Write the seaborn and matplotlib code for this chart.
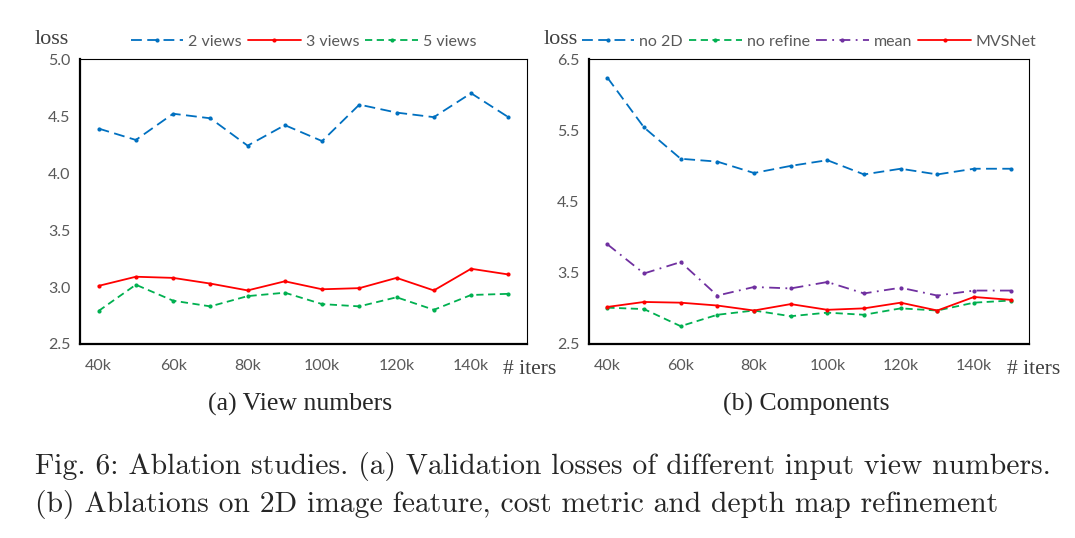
import numpy as np
import pandas as pd
import seaborn as sns
import matplotlib.pyplot as plt

# training iterations (k)
iters = [40, 50, 60, 70, 80, 90, 100, 110, 120, 130, 140, 150]
tick_iters = [40, 60, 80, 100, 120, 140]
tick_labels = ['40k', '60k', '80k', '100k', '120k', '140k']

# (a) view numbers
views_2 = [4.39, 4.29, 4.52, 4.48, 4.24, 4.42, 4.28, 4.60, 4.53, 4.49, 4.70, 4.49]
views_3 = [3.01, 3.09, 3.08, 3.03, 2.97, 3.05, 2.98, 2.99, 3.08, 2.97, 3.16, 3.11]
views_5 = [2.79, 3.02, 2.88, 2.83, 2.92, 2.95, 2.85, 2.83, 2.91, 2.80, 2.93, 2.94]

# (b) components
no_2d = [6.24, 5.54, 5.10, 5.06, 4.90, 5.00, 5.08, 4.88, 4.96, 4.88, 4.96, 4.96]
no_refine = [3.01, 2.99, 2.75, 2.91, 2.97, 2.89, 2.94, 2.91, 3.00, 2.97, 3.08, 3.11]
mean_cost = [3.90, 3.49, 3.65, 3.18, 3.30, 3.28, 3.37, 3.21, 3.29, 3.18, 3.25, 3.25]
mvsnet = [3.02, 3.09, 3.08, 3.04, 2.97, 3.06, 2.98, 3.00, 3.08, 2.97, 3.16, 3.12]

BLUE = '#0070C0'
RED = '#FF0000'
GREEN = '#00B050'
PURPLE = '#7030A0'
GREY = '#595959'

sns.set_style('white')
plt.rcParams['font.family'] = ['Lato', 'DejaVu Sans']


def draw_panel(ax, series, ylim, yticks, iters_x):
    for label, values, color, dash in series:
        ls = '-' if dash is None else (0, dash)
        sns.lineplot(x=iters, y=values, ax=ax, color=color, linestyle=ls, linewidth=1.3,
                     marker='o', markersize=3, markeredgewidth=0, label=label)

    ax.set_xlim(35, 155)
    ax.set_ylim(*ylim)
    ax.set_yticks(yticks)
    ax.set_yticklabels([f'{v:.1f}' for v in yticks])
    ax.set_xticks(tick_iters)
    ax.set_xticklabels(tick_labels)
    ax.tick_params(axis='y', length=4, width=1, color='black', labelsize=11.5, labelcolor=GREY, pad=3)
    ax.tick_params(axis='x', length=0, labelsize=11.5, labelcolor=GREY, pad=11)
    for side in ['left', 'bottom']:
        ax.spines[side].set_linewidth(1.6)
        ax.spines[side].set_color('black')
    for side in ['top', 'right']:
        ax.spines[side].set_linewidth(0.8)
        ax.spines[side].set_color('black')

    ax.legend(loc='lower center', bbox_to_anchor=(0.5, 1.0), ncol=len(series), frameon=False,
              fontsize=11.5, handlelength=3.3, columnspacing=0.4, handletextpad=0.3,
              borderaxespad=0.25, labelcolor=GREY)
    ax.text(-0.025, 1.07, 'loss', transform=ax.transAxes, ha='right', va='center',
            fontsize=16, family='Liberation Serif', color='#404040')
    ax.text(iters_x, -0.09, '# iters', transform=ax.transAxes, ha='center', va='center',
            fontsize=15.5, family='Liberation Serif', color='#404040')
    ax.set_xlabel('')
    ax.set_ylabel('')


fig = plt.figure(figsize=(10.75, 5.38), dpi=100)
ax_a = fig.add_axes([0.0744, 0.3606, 0.4158, 0.5297])
ax_b = fig.add_axes([0.5479, 0.3606, 0.4093, 0.5297])

draw_panel(ax_a, [('2 views', views_2, BLUE, (6, 3)),
                  ('3 views', views_3, RED, None),
                  ('5 views', views_5, GREEN, (4, 2.5))],
           (2.5, 5.0), [2.5, 3.0, 3.5, 4.0, 4.5, 5.0], 1.007)

draw_panel(ax_b, [('no 2D', no_2d, BLUE, (6, 3)),
                  ('no refine', no_refine, GREEN, (4, 2.5)),
                  ('mean', mean_cost, PURPLE, (6, 3, 1, 3)),
                  ('MVSNet', mvsnet, RED, None)],
           (2.5, 6.5), [2.5, 3.5, 4.5, 5.5, 6.5], 1.01)

fig.text(0.2795, 0.249, '(a) View numbers', ha='center', va='center',
         fontsize=18.5, family='Liberation Serif')
fig.text(0.750, 0.249, '(b) Components', ha='center', va='center',
         fontsize=18.5, family='Liberation Serif')

fig.text(0.033, 0.132, 'Fig. 6: Ablation studies. (a) Validation losses of different input view numbers.',
         ha='left', va='center', fontsize=21.3, family=['cmr10', 'DejaVu Serif'])
fig.text(0.033, 0.063, '(b) Ablations on 2D image feature, cost metric and depth map refinement',
         ha='left', va='center', fontsize=21.3, family=['cmr10', 'DejaVu Serif'])

fig.savefig('out.png', dpi=100)
